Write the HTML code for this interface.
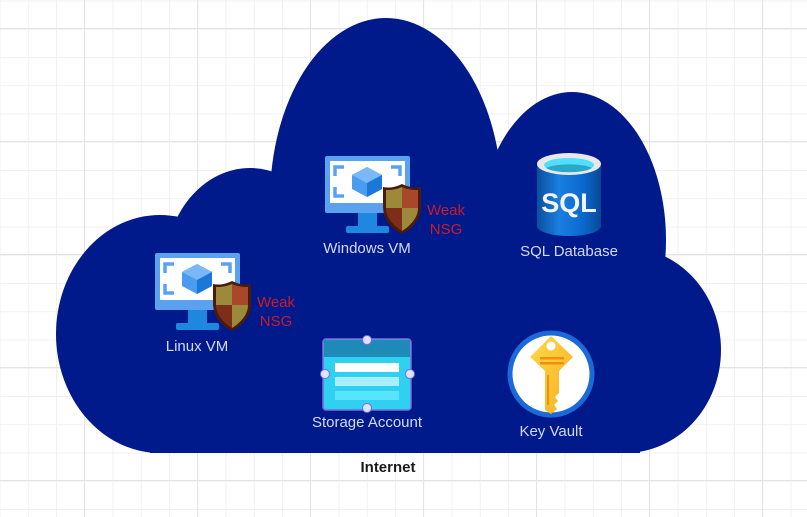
<!DOCTYPE html>
<html><head><meta charset="utf-8"><style>
html,body{margin:0;padding:0;}
body{width:807px;height:517px;overflow:hidden;background-color:#fff;
background-image:linear-gradient(#e4e4e4 1px,transparent 1px),linear-gradient(90deg,#e4e4e4 1px,transparent 1px),linear-gradient(#f0f0f0 1px,transparent 1px),linear-gradient(90deg,#f0f0f0 1px,transparent 1px);
background-size:113px 113px,113px 113px,28.25px 28.25px,28.25px 28.25px;
background-position:-29px 28px,84px 0,0 0.5px,-0.5px 0;}
svg{position:absolute;left:0;top:0;font-family:"Liberation Sans",sans-serif;}
</style></head><body>
<svg width="807" height="517" viewBox="0 0 807 517">
<defs>
<linearGradient id="cyl" x1="0" x2="1"><stop offset="0" stop-color="#0a4fa0"/><stop offset="0.35" stop-color="#1a7fe0"/><stop offset="0.7" stop-color="#0b6ad0"/><stop offset="1" stop-color="#084a98"/></linearGradient>
<linearGradient id="key" x1="0" y1="0" x2="1" y2="1"><stop offset="0" stop-color="#ffd84a"/><stop offset="1" stop-color="#f5b020"/></linearGradient>
<g id="vm">
<rect x="0" y="0" width="85" height="57" rx="2" fill="#5aa2f0"/>
<rect x="5" y="5" width="75" height="42" fill="#fff"/>
<path d="M10 20v-9h9M66 11h9v9M10 31v9h9M66 40h9v-9" stroke="#5aa2f0" stroke-width="3.5" fill="none"/>
<polygon points="42,11 57,19 57,33 42,41 27,33 27,19" fill="#4a9cf0"/>
<polygon points="42,11 57,19 42,27 27,19" fill="#7ab8f8"/>
<polygon points="42,27 57,19 57,33 42,41" fill="#1a78d8"/>
<rect x="33" y="57" width="19" height="14" fill="#1e88e0"/>
<rect x="21" y="70" width="43" height="7" rx="2" fill="#1e88e0"/>
<g transform="translate(57,28)">
<path d="M20 0 C12 4 6 4 1 3 L1 22 C1 36 10 45 20 50 C30 45 39 36 39 22 L39 3 C34 4 28 4 20 0Z" fill="#4a1a0c"/>
<path d="M20 3 C13 6 8 6 4 6 L4 24 L20 24Z" fill="#9c8a3a"/>
<path d="M20 3 C27 6 32 6 36 6 L36 24 L20 24Z" fill="#a8472a"/>
<path d="M4 24 C4 34 12 42 20 47 L20 24Z" fill="#7c2e18"/>
<path d="M36 24 C36 34 28 42 20 47 L20 24Z" fill="#9c8a3a"/>
</g>
</g>
</defs>
<g fill="#001a8c">
<ellipse cx="160" cy="334" rx="104" ry="119"/>
<ellipse cx="250" cy="270" rx="85" ry="102"/>
<ellipse cx="386" cy="200" rx="116" ry="182"/>
<ellipse cx="572" cy="240" rx="94" ry="148"/>
<ellipse cx="625" cy="350" rx="96" ry="103"/>
<rect x="150" y="290" width="490" height="163"/>
</g>
<use href="#vm" x="325" y="156"/>
<use href="#vm" x="155" y="253"/>
<g font-size="15" fill="#cc1a28" text-anchor="middle">
<text x="446" y="215">Weak</text><text x="446" y="234">NSG</text>
<text x="276" y="307">Weak</text><text x="276" y="326">NSG</text>
</g>
<path d="M537 164 v62 a32 10 0 0 0 64 0 v-62z" fill="url(#cyl)"/>
<ellipse cx="569" cy="164" rx="32" ry="11" fill="#e8e8e8"/>
<ellipse cx="569" cy="165" rx="25" ry="7" fill="#50e0ff"/>
<path d="M546 168 a25 6 0 0 1 46 0 a25 7 0 0 1 -46 0z" fill="#2aa8c8"/>
<text x="569" y="212" font-size="27" font-weight="bold" fill="#f4f4f4" text-anchor="middle">SQL</text>
<rect x="323" y="339" width="88" height="71" rx="3" fill="#30d0f0" stroke="#7a6ae0" stroke-width="1.5"/>
<rect x="324" y="340" width="86" height="17" fill="#1e8ab8"/>
<rect x="335" y="363" width="64" height="9" fill="#fff"/>
<rect x="335" y="377" width="64" height="9" fill="#a8eefc"/>
<rect x="335" y="391" width="64" height="9" fill="#58e4fc"/>
<g fill="#dce4ff" stroke="#7a6ae0" stroke-width="1">
<circle cx="367" cy="340" r="4.5"/><circle cx="325" cy="374" r="4.5"/><circle cx="410" cy="374" r="4.5"/><circle cx="367" cy="408" r="4.5"/>
</g>
<circle cx="551" cy="374" r="41" fill="#fff" stroke="#1a6ad8" stroke-width="5"/>
<path d="M551 336 L573 357 L559 371 L559 393 L555 397 L558 401 L554 405 L557 409 L551 414 L545 410 L545 371 L530 357Z" fill="url(#key)"/>
<circle cx="551" cy="346" r="4.5" fill="#fff"/>
<rect x="540" y="357" width="24" height="2.5" fill="#f09010"/>
<rect x="540" y="362" width="24" height="2.5" fill="#f09010"/>
<rect x="547" y="375" width="2" height="30" fill="#f09010"/>
<g font-size="15" fill="#d4daf2" text-anchor="middle">
<text x="367" y="253">Windows VM</text>
<text x="197" y="351">Linux VM</text>
<text x="569" y="256">SQL Database</text>
<text x="367" y="427">Storage Account</text>
<text x="551" y="436">Key Vault</text>
</g>
<text x="388" y="472" font-size="15" font-weight="bold" fill="#1a1a1a" text-anchor="middle">Internet</text>
</svg>
</body></html>
